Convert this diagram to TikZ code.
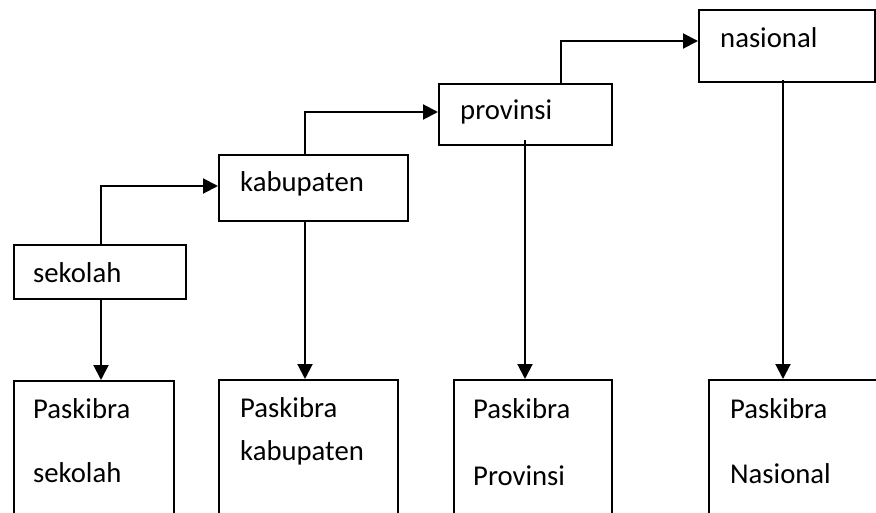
\documentclass[tikz,border=0pt]{standalone}
\usepackage{fontspec}
\setmainfont{Carlito}
\usetikzlibrary{arrows.meta,calc}
\begin{document}
\begin{tikzpicture}[x=1pt,y=-1pt,
  boxst/.style={draw=black, line width=2pt, rectangle, inner sep=0pt, anchor=north west},
  lbl/.style={anchor=base west, inner sep=0pt, font=\fontsize{28.7}{34}\selectfont},
  arr/.style={line width=2pt, -{Triangle[length=15pt,width=15pt]}},
  conn/.style={line width=2pt}]
\useasboundingbox (0,0) rectangle (876,513);
\clip (0,0) rectangle (876,513);
% top boxes
\node[boxst, minimum width=172pt, minimum height=54pt] (sek) at (13,244) {};
\node[boxst, minimum width=189pt, minimum height=66pt] (kab) at (218,154) {};
\node[boxst, minimum width=173pt, minimum height=61pt] (prov) at (438,83) {};
\node[boxst, minimum width=176pt, minimum height=72pt] (nas) at (698,9) {};
\node[lbl] (tsek) at (33,283) {sekolah};
\node[lbl] (tkab) at (240,192) {kabupaten};
\node[lbl] (tprov) at (460,120) {provinsi};
\node[lbl] (tnas) at (720,48) {nasional};
% bottom boxes (cut off at the bottom)
\node[boxst, minimum width=160pt, minimum height=200pt] (pk1) at (13,380) {};
\node[boxst, minimum width=179pt, minimum height=200pt] (pk2) at (218,379) {};
\node[boxst, minimum width=158pt, minimum height=200pt] (pk3) at (453,379) {};
\node[boxst, minimum width=220pt, minimum height=200pt] (pk4) at (708,379) {};
\node[lbl] (p1a) at (33,418) {Paskibra};
\node[lbl] (p1b) at (33,482) {sekolah};
\node[lbl] (p2a) at (240,417) {Paskibra};
\node[lbl] (p2b) at (240,460) {kabupaten};
\node[lbl] (p3a) at (473,418) {Paskibra};
\node[lbl] (p3b) at (473,485) {Provinsi};
\node[lbl] (p4a) at (730,418) {Paskibra};
\node[lbl] (p4b) at (730,483) {Nasional};
% arrow x positions
\coordinate (c1) at (101,0);
\coordinate (c2) at (305,0);
\coordinate (c3) at (525,0);
\coordinate (c4) at (783,0);
\coordinate (e3) at (561,0);
% down arrows
\draw[arr] (sek.south -| c1) -- (pk1.north -| c1);
\draw[arr] (kab.south -| c2) -- (pk2.north -| c2);
\draw[arr] ([yshift=6pt]prov.south -| c3) -- (pk3.north -| c3);
\draw[arr] ([yshift=3pt]nas.south -| c4) -- (pk4.north -| c4);
% elbow connectors
\draw[arr] (sek.north -| c1) |- ([yshift=2pt]kab.west);
\draw[arr] (kab.north -| c2) |- ([yshift=2.5pt]prov.west);
\draw[arr] (prov.north -| e3) |- ([yshift=5pt]nas.west);
\end{tikzpicture}
\end{document}
